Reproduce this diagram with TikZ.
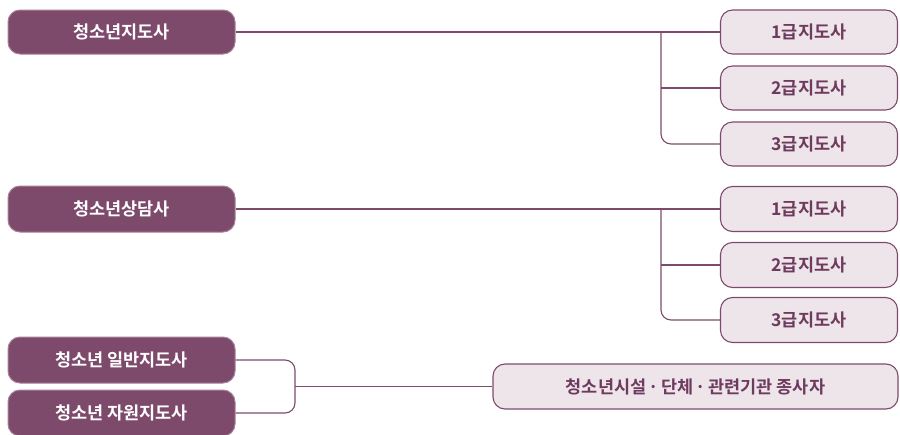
\documentclass[tikz,border=0pt]{standalone}
\usepackage{fontspec}
\newfontfamily\kr{Noto Sans CJK KR}[BoldFont={Noto Sans CJK KR Bold}]
\newcommand\krdot{\hspace{3pt}\makebox[9pt]{·}\hspace{3pt}}
\definecolor{plum}{HTML}{7E4A6C}
\definecolor{plumlight}{HTML}{EEE5EB}
\definecolor{plumtext}{HTML}{6E3A5E}
\begin{document}
\begin{tikzpicture}[x=1pt,y=-1pt,
  boxfont/.style={font=\kr\bfseries\fontsize{17.5}{19}\selectfont},
  darkbox/.style={boxfont,draw=plum!70!white,line width=1pt,fill=plum,rounded corners=12pt,text=white,inner sep=0pt,anchor=center},
  lightbox/.style={boxfont,draw=plum,line width=1.1pt,fill=plumlight,rounded corners=12pt,text=plumtext,inner sep=0pt,anchor=center},
  conn/.style={draw=plum,line width=1.1pt,rounded corners=10pt}]
\useasboundingbox (0,0) rectangle (900,434);
% group 1
\node[darkbox,minimum width=227pt,minimum height=44pt] (a) at (121.5,32) {청소년지도사};
\node[lightbox,minimum width=177pt,minimum height=44pt] (a1) at (809,32) {1급지도사};
\node[lightbox,minimum width=177pt,minimum height=44pt] (a2) at (809,88) {2급지도사};
\node[lightbox,minimum width=177pt,minimum height=44pt] (a3) at (809,144) {3급지도사};
\coordinate (ab) at (661,32);
\draw[conn] (a.east) -- (a1.west);
\draw[conn] (ab) |- (a3.west);
\draw[conn] (ab |- a2.west) -- (a2.west);
% group 2
\node[darkbox,minimum width=227pt,minimum height=46pt] (b) at (121.5,209) {청소년상담사};
\node[lightbox,minimum width=177pt,minimum height=45pt] (b1) at (809,209) {1급지도사};
\node[lightbox,minimum width=177pt,minimum height=45pt] (b2) at (809,265) {2급지도사};
\node[lightbox,minimum width=177pt,minimum height=45pt] (b3) at (809,320) {3급지도사};
\coordinate (bb) at (661,209);
\draw[conn] (b.east) -- (b1.west);
\draw[conn] (bb) |- (b3.west);
\draw[conn] (bb |- b2.west) -- (b2.west);
% group 3
\node[darkbox,minimum width=227pt,minimum height=46pt] (c1) at (121.5,360) {청소년 일반지도사};
\node[darkbox,minimum width=227pt,minimum height=46pt] (c2) at (121.5,413) {청소년 자원지도사};
\node[lightbox,minimum width=405pt,minimum height=45pt] (d) at (695.5,386.5) {청소년시설\krdot 단체\krdot 관련기관 종사자};
\coordinate (cm) at (295,386.5);
\draw[conn] (c1.east) -| (cm) |- (c2.east);
\draw[conn] (cm) -- (d.west);
\end{tikzpicture}
\end{document}
